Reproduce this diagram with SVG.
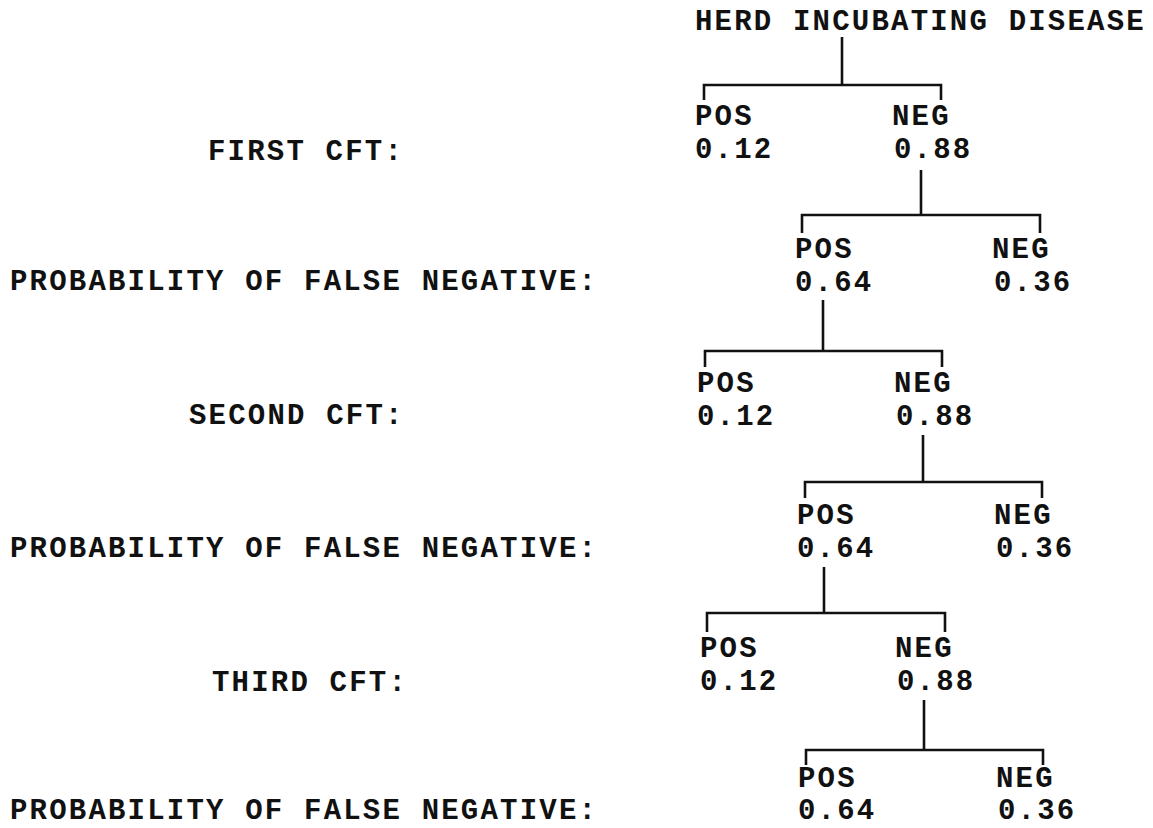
<svg xmlns="http://www.w3.org/2000/svg" width="1153" height="828" viewBox="0 0 1153 828">
<style>
text{font-family:"Liberation Mono","Courier New",monospace;font-weight:bold;font-size:29px;letter-spacing:2.2px;fill:#111}
.c{stroke:#111;stroke-width:2.6;fill:none}
</style>
<rect width="1153" height="828" fill="#fff"/>
<g id="labels">
<text x="208" y="160">FIRST CFT:</text>
<text x="10" y="290">PROBABILITY OF FALSE NEGATIVE:</text>
<text x="189" y="424">SECOND CFT:</text>
<text x="10" y="557">PROBABILITY OF FALSE NEGATIVE:</text>
<text x="212" y="691">THIRD CFT:</text>
<text x="10" y="819">PROBABILITY OF FALSE NEGATIVE:</text>
</g>
<g id="root"><text x="695" y="30">HERD INCUBATING DISEASE</text></g>
<g id="n1pos"><text x="695" y="125">POS</text><text x="695" y="158">0.12</text></g>
<g id="n1neg"><text x="892" y="125">NEG</text><text x="894" y="158">0.88</text></g>
<g id="n2pos"><text x="795" y="258">POS</text><text x="795" y="291">0.64</text></g>
<g id="n2neg"><text x="992" y="258">NEG</text><text x="994" y="291">0.36</text></g>
<g id="n3pos"><text x="697" y="392">POS</text><text x="697" y="425">0.12</text></g>
<g id="n3neg"><text x="894" y="392">NEG</text><text x="896" y="425">0.88</text></g>
<g id="n4pos"><text x="797" y="524">POS</text><text x="797" y="557">0.64</text></g>
<g id="n4neg"><text x="994" y="524">NEG</text><text x="996" y="557">0.36</text></g>
<g id="n5pos"><text x="700" y="657">POS</text><text x="700" y="690">0.12</text></g>
<g id="n5neg"><text x="895" y="657">NEG</text><text x="897" y="690">0.88</text></g>
<g id="n6pos"><text x="798" y="787">POS</text><text x="798" y="819">0.64</text></g>
<g id="n6neg"><text x="996" y="787">NEG</text><text x="998" y="819">0.36</text></g>
<g id="connectors" class="c">
<path d="M842 37V85M704 100V85H941V100"/>
<path d="M921 170V215M802 233V215H1040V233"/>
<path d="M823 300V351M705 367V351H942V367"/>
<path d="M923 435V482M805 498V482H1042V498"/>
<path d="M824 567V613M707 632V613H945V632"/>
<path d="M924 700V750M806 765V750H1043V765"/>
</g>
</svg>
